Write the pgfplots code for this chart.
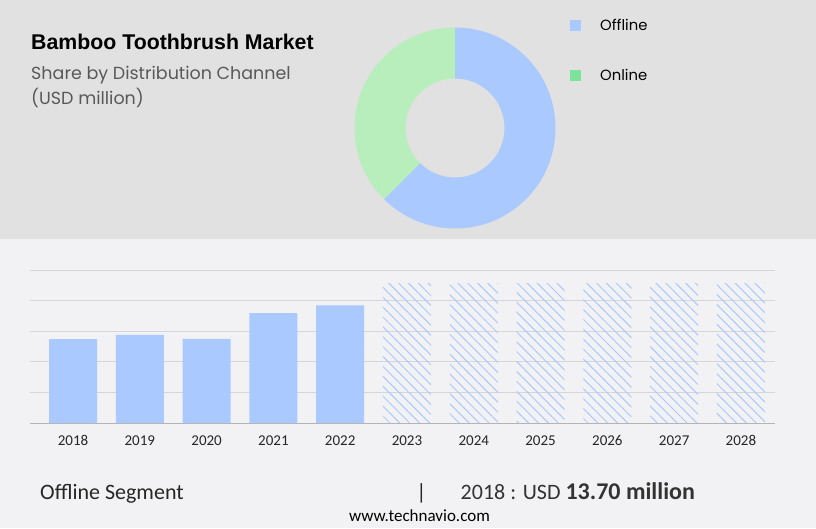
\documentclass[border=0pt]{standalone}
\usepackage{pgfplots}
\pgfplotsset{compat=1.18}
\usepackage{pgfplotstable}
\usepackage{fontspec}
\setmainfont{Liberation Sans}
\newfontfamily\gothic{Poppins}
\newfontfamily\narrow{Carlito}
\usetikzlibrary{patterns.meta}

\definecolor{topgray}{HTML}{E1E1E1}
\definecolor{botgray}{HTML}{F2F2F4}
\definecolor{offblue}{HTML}{A9C9FF}
\definecolor{ongreen}{HTML}{B8EEBB}
\definecolor{legreen}{HTML}{7DE29A}
\definecolor{gridgray}{HTML}{D6D6D8}
\definecolor{basegray}{HTML}{B4B4B6}
\definecolor{subgray}{HTML}{595959}

% share by distribution channel (%)
\pgfplotstableread{
channel share
Offline 62.5
Online 37.5
}\sharetable

% offline segment, USD million
\pgfplotstableread{
idx year value
0 2018 13.70
1 2019 14.40
2 2020 13.75
3 2021 17.96
4 2022 19.20
}\actualtable

\pgfplotstableread{
idx year value
5 2023 22.87
6 2024 22.87
7 2025 22.87
8 2026 22.87
9 2027 22.87
10 2028 22.87
}\forecasttable

\pgfplotstablegetelem{0}{share}\of\sharetable
\pgfmathsetmacro\offEnd{90-3.6*\pgfplotsretval}
\pgfplotstablegetelem{1}{share}\of\sharetable
\pgfmathsetmacro\onEnd{\offEnd-3.6*\pgfplotsretval}

\begin{document}
\begin{tikzpicture}[x=1pt,y=1pt]
% panels
\fill[botgray] (0,0) rectangle (816,289);
\fill[topgray] (0,289) rectangle (816,528);

% titles
\node[anchor=base west,inner sep=0pt,font=\fontsize{21.3}{24}\selectfont\bfseries] at (31,478.7) {Bamboo Toothbrush Market};
\node[anchor=base west,inner sep=0pt,text=subgray,font=\gothic\fontsize{17.5}{20}\selectfont] at (31,448) {Share by Distribution Channel};
\node[anchor=base west,inner sep=0pt,text=subgray,font=\gothic\fontsize{17.5}{20}\selectfont] at (31,423) {(USD million)};

% legend
\fill[offblue] (570,497.3) rectangle (581,508);
\node[anchor=base west,inner sep=0pt,font=\gothic\fontsize{14.8}{18}\selectfont] at (600,497.5) {Offline};
\fill[legreen] (570,447.3) rectangle (581,458);
\node[anchor=base west,inner sep=0pt,font=\gothic\fontsize{14.8}{18}\selectfont] at (600,447.5) {Online};

% donut
\begin{axis}[
  at={(455pt,400pt)}, anchor=center,
  width=202pt, height=202pt, scale only axis,
  xmin=-1, xmax=1, ymin=-1, ymax=1,
  hide axis, clip=false]
  \coordinate (C) at (axis cs:0,0);
  \fill[offblue] (C) ++(90:100.5pt) arc[start angle=90, end angle=\offEnd, radius=100.5pt]
     -- ([shift={(\offEnd:49.5pt)}]C) arc[start angle=\offEnd, end angle=90, radius=49.5pt] -- cycle;
  \fill[ongreen] ([shift={(\offEnd:100.5pt)}]C) arc[start angle=\offEnd, end angle=\onEnd, radius=100.5pt]
     -- ([shift={(\onEnd:49.5pt)}]C) arc[start angle=\onEnd, end angle=\offEnd, radius=49.5pt] -- cycle;
\end{axis}

% bars
\begin{axis}[
  at={(30pt,105pt)}, anchor=south west,
  width=745pt, height=153pt, scale only axis,
  xmin=-0.644, xmax=10.51, ymin=0, ymax=25,
  axis x line*=bottom, axis y line*=left,
  x axis line style={draw=basegray, line width=1pt, -},
  y axis line style={draw=none},
  ytick={5,10,15,20,25}, yticklabels={},
  ymajorgrids, grid style={draw=gridgray, line width=0.9pt},
  major tick length=0pt,
  xtick={0,1,...,10},
  xticklabels={2018,2019,2020,2021,2022,2023,2024,2025,2026,2027,2028},
  xticklabel style={font=\narrow\fontsize{15}{16}\selectfont, text=black!85},
  xticklabel shift=9pt,
  ybar, bar width=48pt, clip=false]
  \addplot[bar shift=0pt, draw=none, fill=offblue] table[x=idx, y=value] {\actualtable};
  \addplot[bar shift=0pt, draw=none, pattern={Lines[angle=-45, distance=7pt, line width=1pt]}, pattern color=offblue] table[x=idx, y=value] {\forecasttable};
\end{axis}

% footer
\node[anchor=base west,inner sep=0pt,font=\narrow\fontsize{22}{24}\selectfont,text=black!85] at (40,28.7) {Offline Segment};
\node[anchor=base,inner sep=0pt,font=\narrow\fontsize{22}{24}\selectfont,text=black!85] at (421.5,28.7) {|};
\node[anchor=base west,inner sep=0pt,font=\narrow\fontsize{22}{24}\selectfont,text=black!80] at (460.5,28.7) {2018 : USD \textbf{\fontsize{24}{24}\selectfont 13.70 million}};
\node[anchor=base,inner sep=0pt,font=\narrow\fontsize{17}{18}\selectfont] at (419.5,6.3) {www.technavio.com};
\end{tikzpicture}
\end{document}
